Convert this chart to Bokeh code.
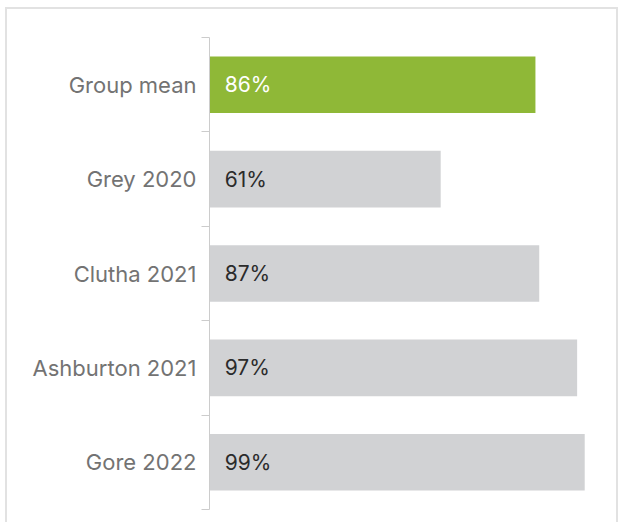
from bokeh.plotting import figure
from bokeh.models import Range1d, FixedTicker, ColumnDataSource
from bokeh.embed import file_html
from bokeh.resources import INLINE
from bokeh.core.properties import value

categories = ["Group mean", "Grey 2020", "Clutha 2021", "Ashburton 2021", "Gore 2022"]
values = [86, 61, 87, 97, 99]
colors = ["#8fb837", "#d1d2d4", "#d1d2d4", "#d1d2d4", "#d1d2d4"]
label_colors = ["#ffffff", "#2b2b2b", "#2b2b2b", "#2b2b2b", "#2b2b2b"]

n = len(categories)
# top-to-bottom order: first category at top
ypos = [n - i - 0.5 for i in range(n)]
labels = [f"{v}%" for v in values]

src = ColumnDataSource(dict(y=ypos, v=values, c=colors, lab=labels, lc=label_colors))

FONT = "Inter"

p = figure(width=613, height=515, x_range=Range1d(0, 100), y_range=Range1d(0, n),
           output_backend="svg", toolbar_location=None,
           min_border_left=202, min_border_right=32, min_border_top=28, min_border_bottom=15)
p.styles = {"border-left": "2px solid #e2e2e2", "border-top": "2px solid #e2e2e2",
            "border-right": "2px solid #e2e2e2", "position": "relative",
            "left": "5px", "top": "7px"}

p.hbar(y="y", right="v", left=0, height=0.6, fill_color="c", line_color=None, source=src)
p.text(x=4, y="y", text="lab", text_color="lc", text_font=value(FONT), text_font_size="21px",
       text_baseline="middle", text_align="left", source=src)

p.xaxis.visible = False
p.xgrid.visible = False
p.ygrid.visible = False
p.outline_line_color = None

ax = p.yaxis[0]
ax.ticker = FixedTicker(ticks=ypos, minor_ticks=list(range(n + 1)))
ax.major_label_overrides = {y: c for y, c in zip(ypos, categories)}
ax.major_tick_line_color = None
ax.major_tick_out = 0
ax.major_tick_in = 0
ax.minor_tick_out = 8
ax.minor_tick_in = 0
ax.minor_tick_line_color = "#cccccc"
ax.axis_line_color = "#cccccc"
ax.major_label_text_font = FONT
ax.major_label_text_font_size = "22px"
ax.major_label_text_color = "#737373"
ax.major_label_standoff = 5

open("out.html", "w").write(file_html(p, INLINE))
